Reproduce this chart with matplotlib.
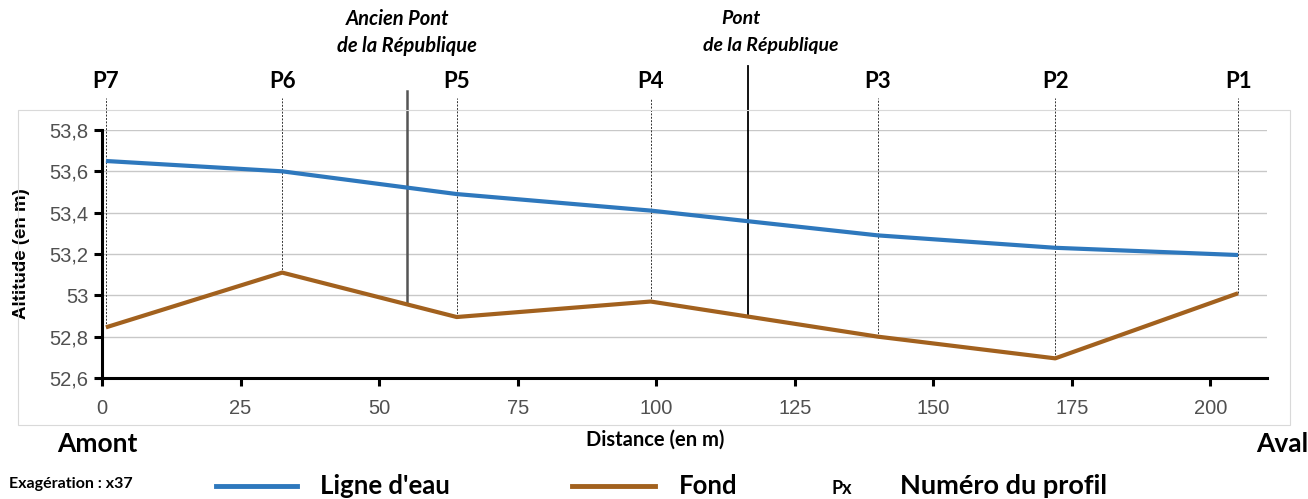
import matplotlib.pyplot as plt
import matplotlib.transforms as mtransforms
from matplotlib.patches import Rectangle
import numpy as np

# profils en travers (amont -> aval)
profils = ['P7', 'P6', 'P5', 'P4', 'P3', 'P2', 'P1']
distance = [0.7, 32.5, 64, 99, 140, 172, 205]          # m
ligne_eau = [53.65, 53.60, 53.49, 53.41, 53.29, 53.23, 53.195]  # m
fond = [52.845, 53.11, 52.895, 52.97, 52.80, 52.695, 53.01]     # m

# ponts
ponts = [('Ancien Pont', 'de la République'), ('Pont', 'de la République')]
ponts_x = [55, 116.5]

x_ticks = [0, 25, 50, 75, 100, 125, 150, 175, 200]
y_ticks = [52.6, 52.8, 53.0, 53.2, 53.4, 53.6, 53.8]
y_labels = ['52,6', '52,8', '53', '53,2', '53,4', '53,6', '53,8']

bleu = '#2E78BD'
marron = '#A2611E'
cal = ['Lato', 'DejaVu Sans']

fig = plt.figure(figsize=(13.08, 4.99), dpi=100)
ax = fig.add_axes([0.078, 0.2425, 0.891, 0.497])

# cadre du graphique
fig.patches.append(Rectangle((0.014, 0.148), 0.972, 0.632, transform=fig.transFigure,
                             fill=False, ec='#d9d9d9', lw=0.8))

ax.plot(distance, ligne_eau, color=bleu, lw=3, solid_capstyle='butt', zorder=4)
ax.plot(distance, fond, color=marron, lw=3, solid_capstyle='butt', zorder=4)

trans = mtransforms.blended_transform_factory(ax.transData, fig.transFigure)

# lignes des profils
for nom, x, f in zip(profils, distance, fond):
    ax.plot([x, x], [f, 53.955], color='#333333', lw=0.7, ls=(0, (2, 1.5)),
            clip_on=False, zorder=3)
    ax.text(x, 0.836, nom, transform=trans, ha='center', va='center',
            fontsize=16, fontweight='bold', family=cal)

# ponts
fond_pont = np.interp(ponts_x, distance, fond)
ax.plot([ponts_x[0], ponts_x[0]], [fond_pont[0], 53.99], color='#555555', lw=1.8,
        clip_on=False, zorder=3)
ax.plot([ponts_x[1], ponts_x[1]], [fond_pont[1], 54.11], color='black', lw=1.3,
        clip_on=False, zorder=3)
ax.text(ponts_x[0] - 1.6, 0.962, ponts[0][0], transform=trans, ha='center', va='center',
        fontsize=14.5, fontweight='bold', style='italic', family=cal)
ax.text(ponts_x[0] + 0.1, 0.908, ponts[0][1], transform=trans, ha='center', va='center',
        fontsize=14.5, fontweight='bold', style='italic', family=cal)
ax.text(ponts_x[1] - 1.2, 0.962, ponts[1][0], transform=trans, ha='center', va='center',
        fontsize=14, fontweight='bold', style='italic', family=cal)
ax.text(ponts_x[1] + 4.2, 0.908, ponts[1][1], transform=trans, ha='center', va='center',
        fontsize=14, fontweight='bold', style='italic', family=cal)

ax.set_xlim(0, 210.3)
ax.set_ylim(52.6, 53.8)
ax.set_xticks(x_ticks)
ax.set_yticks(y_ticks)
ax.set_yticklabels(y_labels)
ax.grid(axis='y', color='#c8c8c8', lw=1)
ax.set_axisbelow(True)
for s in ['top', 'right']:
    ax.spines[s].set_visible(False)
for s in ['left', 'bottom']:
    ax.spines[s].set_linewidth(2.2)
    ax.spines[s].set_zorder(5)
ax.tick_params(length=6, width=2.2, labelsize=14.5, labelcolor='#505050')
ax.tick_params(axis='x', pad=9)
ax.tick_params(axis='y', pad=4)
for lab in ax.get_xticklabels() + ax.get_yticklabels():
    lab.set_family('Liberation Sans')

ax.set_ylabel('Altitude (en m)', fontsize=13.5, fontweight='bold', family='Liberation Sans')
ax.yaxis.set_label_coords(-0.062, 0.5)

fig.text(0.501, 0.118, 'Distance (en m)', ha='center', va='center', fontsize=14.5,
         fontweight='bold', family=cal)
fig.text(0.044, 0.11, 'Amont', ha='left', va='center', fontsize=19,
         fontweight='bold', family=cal)
fig.text(1.0, 0.11, 'Aval', ha='right', va='center', fontsize=19,
         fontweight='bold', family=cal)

# légende
fig.text(0.007, 0.03, 'Exagération : x37', ha='left', va='center', fontsize=11.5,
         fontweight='bold', family=cal)
fig.add_artist(plt.Line2D([0.165, 0.227], [0.026, 0.026], color=bleu, lw=3.5))
fig.text(0.245, 0.026, "Ligne d'eau", ha='left', va='center', fontsize=18.5,
         fontweight='bold', family=cal)
fig.add_artist(plt.Line2D([0.437, 0.501], [0.026, 0.026], color=marron, lw=3.5))
fig.text(0.519, 0.026, 'Fond', ha='left', va='center', fontsize=18.5,
         fontweight='bold', family=cal)
fig.text(0.636, 0.022, 'Px', ha='left', va='center', fontsize=13,
         fontweight='bold', family=cal)
fig.text(0.688, 0.026, 'Numéro du profil', ha='left', va='center', fontsize=19.5,
         fontweight='bold', family=cal)

fig.savefig('out.png', dpi=100)
